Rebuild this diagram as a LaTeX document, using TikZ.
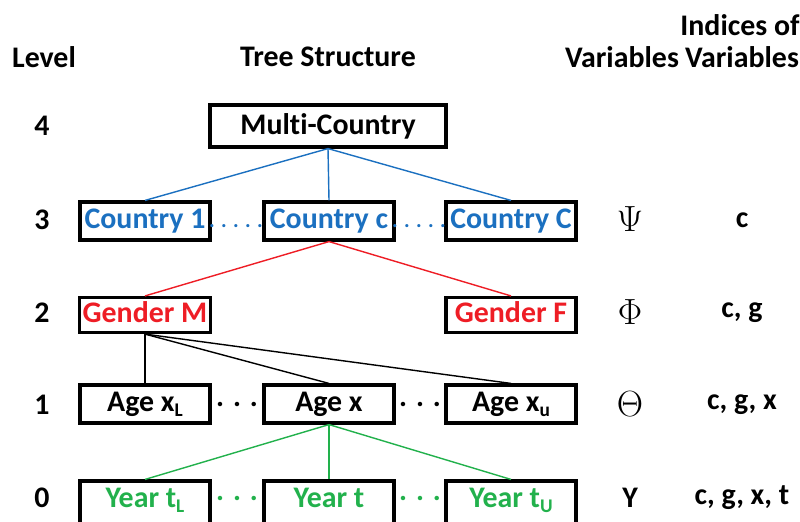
\documentclass[tikz,border=0pt]{standalone}
\usepackage{fontspec}
\setmainfont{Carlito}[Ligatures=NoCommon]

\definecolor{ctyblue}{HTML}{1B70C0}
\definecolor{gendred}{HTML}{EE1D25}
\definecolor{yeargreen}{HTML}{22B14C}

\tikzset{
  box/.style={draw, line width=1.8pt, minimum width=2.6cm, inner xsep=2pt, inner ysep=0pt,
    text height=0.52cm, text depth=0.24cm, font=\bfseries\fontsize{17}{20}\selectfont},
  yearbox/.style={box, text depth=0.56cm},
  lbl/.style={font=\bfseries\fontsize{17}{20}\selectfont},
  smalldots/.style={font=\bfseries\fontsize{12}{12}\selectfont, inner sep=0pt},
  greek/.style={font=\fontsize{22}{24}\selectfont},
  link/.style={line width=0.8pt},
}
\newcommand{\lowidx}[1]{\raisebox{-0.4ex}{\fontsize{11}{12}\selectfont #1}}

\begin{document}
\begin{tikzpicture}[x=0.02cm, y=-0.02cm]

        \useasboundingbox (0,0) rectangle (800,521);

        % Column headers
        \node[lbl] (hlevel) at (44,57) {Level};
        \node[lbl] (htree) at (328,57) {Tree Structure};
        \node[lbl] (hvar) at (622,57) {Variables};
        \node[lbl] (hidx) at (742,57) {Variables};
        \node[lbl] (hidxtop) at (740,25) {Indices of};

        % Level numbers
        \node[lbl] (l4) at (42,126) {4};
        \node[lbl] (l3) at (42,220) {3};
        \node[lbl] (l2) at (42,313) {2};
        \node[lbl] (l1) at (42,405) {1};
        \node[lbl] (l0) at (42,498) {0};

        % Level 4
        \node[box, minimum width=4.72cm, text height=0.58cm, text depth=0.26cm] (multi) at (328,126) {Multi-Country};

        % Level 3
        \node[box, text=ctyblue] (cty1) at (145,221) {Country 1};
        \node[box, text=ctyblue] (ctyc) at (329,221) {Country c};
        \node[box, text=ctyblue] (ctyC) at (511,221) {Country C};

        % Level 2
        \node[box, text=gendred, text height=0.5cm, text depth=0.2cm] (gendM) at (145,315) {Gender M};
        \node[box, text=gendred, text height=0.5cm, text depth=0.2cm] (gendF) at (511,315) {Gender F};

        % Level 1
        \node[box] (ageL) at (145,404) {Age x\lowidx{L}};
        \node[box] (agex) at (329,404) {Age x};
        \node[box] (ageU) at (511,404) {Age x\lowidx{u}};

        % Level 0
        \node[yearbox, text=yeargreen] (yearL) at (145,508) {Year t\lowidx{L}};
        \node[yearbox, text=yeargreen] (yeart) at (329,508) {Year t};
        \node[yearbox, text=yeargreen] (yearU) at (511,508) {Year t\lowidx{U}};

        % Dots between boxes
        \node[smalldots, text=ctyblue] (dotsc1) at (236,226) {. . . . .};
        \node[smalldots, text=ctyblue] (dotsc2) at (419,226) {. . . . .};
        \node[lbl] (dotsa1) at (237,404) {. . .};
        \node[lbl] (dotsa2) at (420,404) {. . .};
        \node[lbl, text=yeargreen] (dotsy1) at (237,498) {. . .};
        \node[lbl, text=yeargreen] (dotsy2) at (420,498) {. . .};

        % Tree links
        \draw[link, ctyblue] (multi.south) -- (cty1.north);
        \draw[link, ctyblue] (multi.south) -- (ctyc.north);
        \draw[link, ctyblue] (multi.south) -- (ctyC.north);

        \draw[link, gendred] (ctyc.south) -- (gendM.north);
        \draw[link, gendred] (ctyc.south) -- (gendF.north);

        \draw[link] (gendM.south) -- (ageL.north -| gendM.south);
        \draw[link] (gendM.south) -- (agex.north);
        \draw[link] (gendM.south) -- (ageU.north);

        \draw[link, yeargreen] (agex.south) -- (yearL.north);
        \draw[link, yeargreen] (agex.south) -- (yeart.north);
        \draw[link, yeargreen] (agex.south) -- (yearU.north);

        % Variables and their indices
        \node[greek] (vpsi) at (630,219) {$\Psi$};
        \node[greek] (vphi) at (630,312) {$\Phi$};
        \node[greek] (vtheta) at (630,404) {$\Theta$};
        \node[lbl] (vy) at (630,498) {Y};

        \node[lbl] (ipsi) at (742,220) {c};
        \node[lbl] (iphi) at (742,313) {c, g};
        \node[lbl] (itheta) at (742,405) {c, g, x};
        \node[lbl] (iy) at (742,498) {c, g, x, t};

    \end{tikzpicture}
\end{document}
